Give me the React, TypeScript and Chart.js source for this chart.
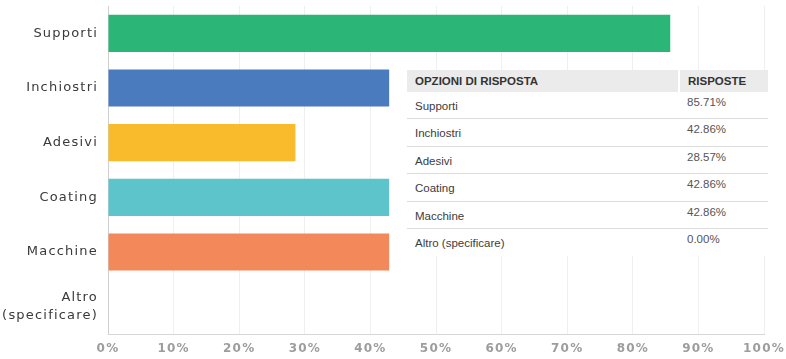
import React, { useEffect, useRef } from "react";
import { Chart, registerables } from "chart.js";

Chart.register(...registerables);

const categories = ["Supporti", "Inchiostri", "Adesivi", "Coating", "Macchine", "Altro (specificare)"];
const axisLabels = [["Supporti"], ["Inchiostri"], ["Adesivi"], ["Coating"], ["Macchine"], ["Altro", "(specificare)"]];
const values = [85.71, 42.86, 28.57, 42.86, 42.86, 0];
const barColors = ["#2bb677", "#4a7bbf", "#f9bb2b", "#5ec4cb", "#f3895a", "#9b9b9b"];
const tableHeaders = ["OPZIONI DI RISPOSTA", "RISPOSTE"];
const xMax = 100;
const xStep = 10;

const spacingPlugin = {
  id: "spacing",
  beforeInit(chart: any) {
    chart.ctx.letterSpacing = "1.2px";
  },
  beforeUpdate(chart: any) {
    chart.ctx.letterSpacing = "1.2px";
  },
  beforeDraw(chart: any) {
    chart.ctx.letterSpacing = "1.2px";
  },
};

export default function App() {
  const ref = useRef<HTMLCanvasElement | null>(null);

  useEffect(() => {
    document.body.style.margin = "0";
    if (!ref.current) return;
    const chart = new Chart(ref.current, {
      type: "bar",
      data: {
        labels: axisLabels,
        datasets: [
          {
            data: values,
            backgroundColor: barColors,
            borderWidth: 0,
            barPercentage: 0.68,
            categoryPercentage: 1,
          },
        ],
      },
      plugins: [spacingPlugin],
      options: {
        indexAxis: "y",
        animation: false,
        responsive: false,
        maintainAspectRatio: false,
        layout: { padding: { top: 6, right: 22, bottom: 0, left: 0 } },
        plugins: { legend: { display: false }, tooltip: { enabled: false } },
        scales: {
          x: {
            min: 0,
            max: xMax,
            afterFit(scale: any) {
              scale.height = 25;
              scale.paddingLeft = 0;
              scale.paddingRight = 0;
            },
            ticks: {
              stepSize: xStep,
              padding: 8,
              color: "#9d9d9d",
              font: { family: "DejaVu Sans", size: 12, weight: "bold" },
              callback: (v: any) => v + "%",
            },
            grid: { color: "#efefef", drawTicks: false, lineWidth: 1 },
            border: { color: "#d6d6d6" },
          },
          y: {
            afterFit(scale: any) {
              scale.width = 108;
              scale.paddingTop = 0;
              scale.paddingBottom = 0;
            },
            ticks: {
              padding: 10,
              color: "#3a3a3a",
              font: { family: "DejaVu Sans", size: 13, lineHeight: 1.35 },
            },
            grid: { display: false, drawTicks: false },
            border: { color: "#d0d0d0" },
          },
        },
      } as any,
    });
    return () => chart.destroy();
  }, []);

  const rowH = 27.4;
  return (
    <div style={{ position: "relative", width: 786, height: 359, background: "#fff" }}>
      <canvas ref={ref} width={786} height={359} style={{ display: "block" }} />
      <div
        style={{
          position: "absolute",
          left: 407,
          top: 70,
          width: 361,
          background: "#fff",
          fontFamily: "'Liberation Sans', Arial, sans-serif",
          color: "#3c3c3c",
        }}
      >
        <div style={{ display: "flex", height: 22, fontSize: 11.5, fontWeight: "bold", color: "#333" }}>
          <div style={{ width: 271, background: "#ebebeb", paddingLeft: 8, boxSizing: "border-box", lineHeight: "22px" }}>
            {tableHeaders[0]}
          </div>
          <div style={{ width: 2 }} />
          <div style={{ flex: 1, background: "#ebebeb", paddingLeft: 8, boxSizing: "border-box", lineHeight: "22px" }}>
            {tableHeaders[1]}
          </div>
        </div>
        {categories.map((c, i) => (
          <div
            key={c}
            style={{
              display: "flex",
              height: rowH,
              boxSizing: "border-box",
              borderBottom: i < categories.length - 1 ? "1px solid #dcdcdc" : "none",
              fontSize: 11.5,
            }}
          >
            <div style={{ width: 273, paddingLeft: 8, paddingTop: 8, boxSizing: "border-box" }}>{c}</div>
            <div style={{ flex: 1, paddingLeft: 7, paddingTop: 4, boxSizing: "border-box", color: "#555" }}>
              {values[i].toFixed(2) + "%"}
            </div>
          </div>
        ))}
      </div>
    </div>
  );
}
